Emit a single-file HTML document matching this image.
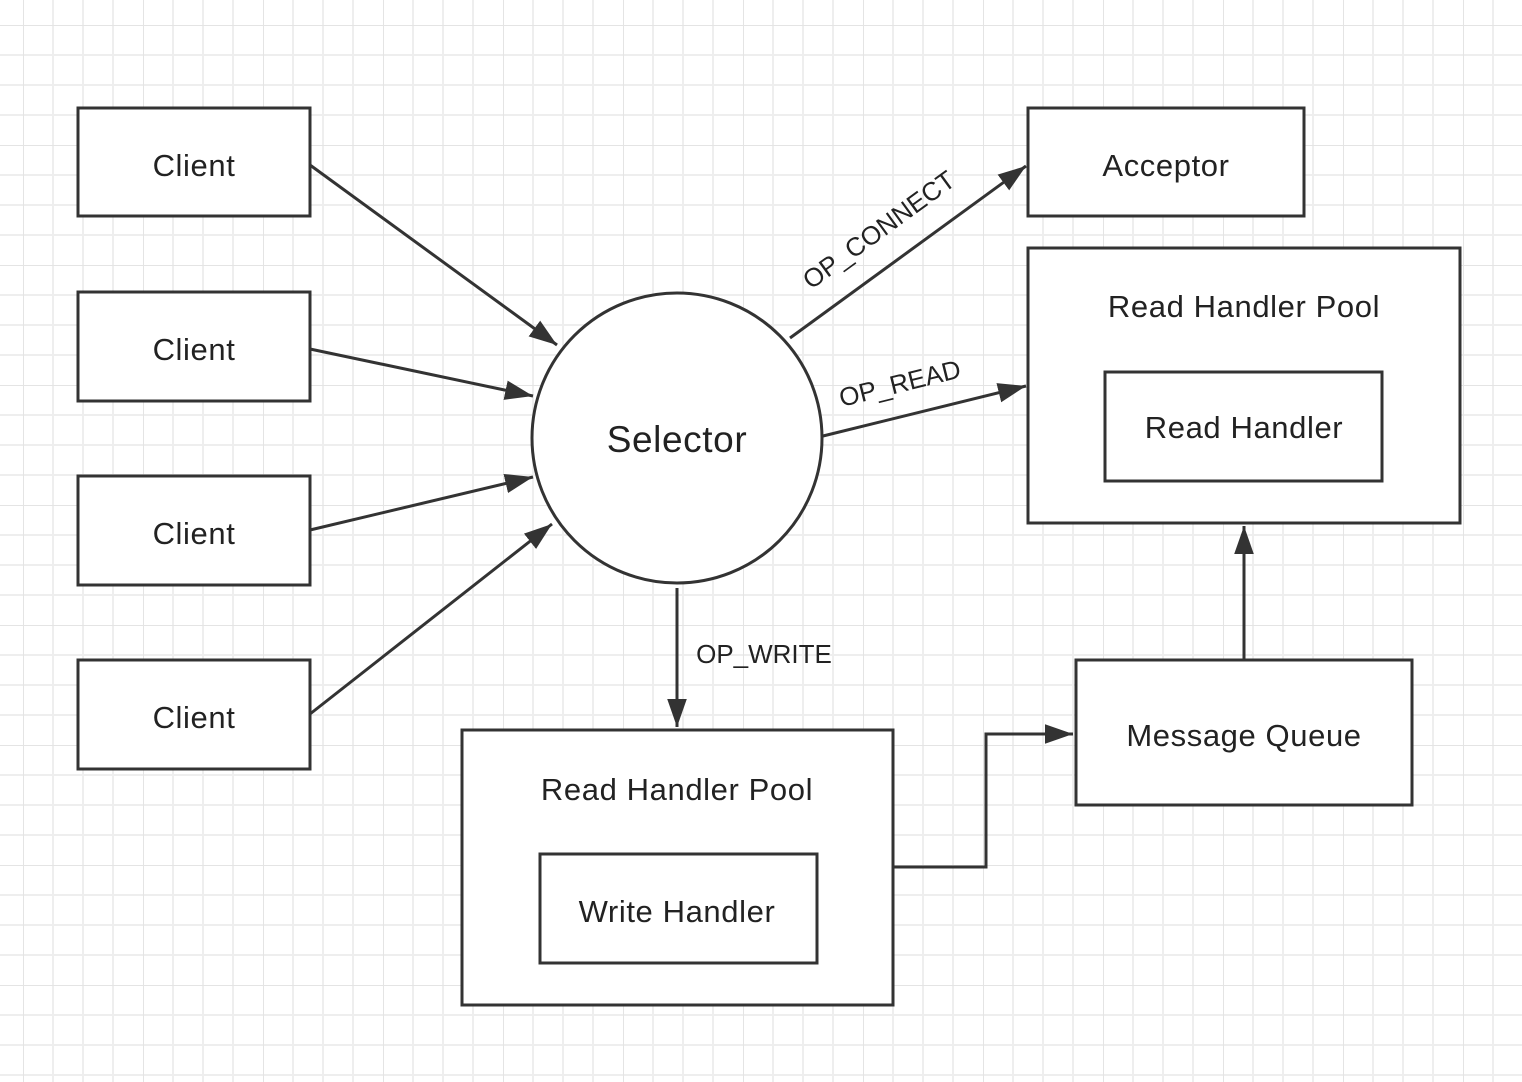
<!DOCTYPE html>
<html><head><style>body{margin:0;background:#fff}svg{display:block}</style></head><body>
<svg width="1522" height="1082" viewBox="0 0 1522 1082" xmlns="http://www.w3.org/2000/svg" font-family="Liberation Sans, sans-serif">
<defs>
<pattern id="g" x="23" y="25" width="120" height="120" patternUnits="userSpaceOnUse">
<path d="M30 0V120M60 0V120M90 0V120M0 30H120M0 60H120M0 90H120" stroke="#eeeeee" stroke-width="2"/>
<path d="M0 0V120M0 0H120" stroke="#e4e4e4" stroke-width="2"/>
</pattern>
<marker id="b" viewBox="0 0 10 10" refX="10" refY="5" markerWidth="28" markerHeight="28" orient="auto" markerUnits="userSpaceOnUse"><path d="M0 1.5L10 5L0 8.5Z" fill="#333"/></marker>
</defs>
<rect width="1522" height="1082" fill="url(#g)"/>
<g fill="#fff" stroke="#333" stroke-width="3">
<rect x="78" y="108" width="232" height="108"/>
<rect x="78" y="292" width="232" height="109"/>
<rect x="78" y="476" width="232" height="109"/>
<rect x="78" y="660" width="232" height="109"/>
<rect x="1028" y="108" width="276" height="108"/>
<rect x="1028" y="248" width="432" height="275"/>
<rect x="1105" y="372" width="277" height="109"/>
<rect x="462" y="730" width="431" height="275"/>
<rect x="540" y="854" width="277" height="109"/>
<rect x="1076" y="660" width="336" height="145"/>
<circle cx="677" cy="438" r="145"/>
</g>
<g fill="none" stroke="#333" stroke-width="3" marker-end="url(#b)">
<path d="M310 165L557 345"/>
<path d="M310 349L533 396"/>
<path d="M310 530L533 477"/>
<path d="M310 714L552 524"/>
<path d="M790 338L1026 166"/>
<path d="M823 436L1026 386"/>
<path d="M677 588V727"/>
<path d="M893 867H986V734H1073"/>
<path d="M1244 660V526"/>
</g>
<g fill="#222" font-size="31" letter-spacing="0.6" text-anchor="middle">
<text x="194" y="176">Client</text>
<text x="194" y="360">Client</text>
<text x="194" y="544">Client</text>
<text x="194" y="728">Client</text>
<text x="1166" y="176">Acceptor</text>
<text x="1244" y="317">Read Handler Pool</text>
<text x="1244" y="438">Read Handler</text>
<text x="677" y="800">Read Handler Pool</text>
<text x="677" y="922">Write Handler</text>
<text x="1244" y="746">Message Queue</text>
<text x="677" y="452" font-size="37">Selector</text>
</g>
<g fill="#222" font-size="26" text-anchor="middle">
<text x="764" y="663">OP_WRITE</text>
<text transform="translate(884,237) rotate(-36)">OP_CONNECT</text>
<text transform="translate(902,392) rotate(-14)">OP_READ</text>
</g>
</svg>
</body></html>
